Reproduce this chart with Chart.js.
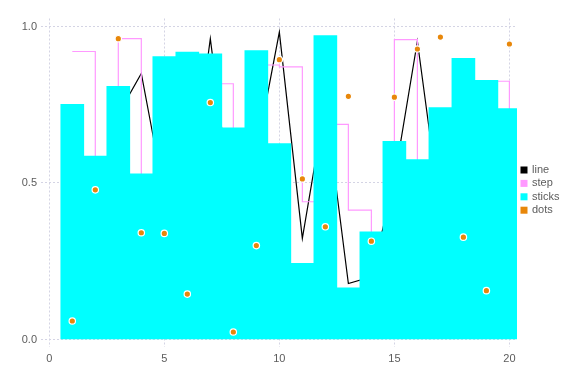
<!DOCTYPE html>
<html>
<head>
<meta charset="utf-8">
<script src="https://cdn.jsdelivr.net/npm/chart.js@4/dist/chart.umd.min.js"></script>
<style>
  html, body { margin: 0; padding: 0; background: #ffffff; }
  #wrap { width: 576px; height: 384px; }
</style>
</head>
<body>
<div id="wrap"><canvas id="c" width="576" height="384"></canvas></div>
<script>
// ---- data ----
const xs = [1,2,3,4,5,6,7,8,9,10,11,12,13,14,15,16,17,18,19,20];
const lineVals  = [0.41,0.19,0.72,0.85,0.46,0.41,0.961,0.38,0.596,0.982,0.323,0.757,0.179,0.20,0.51,0.953,0.405,0.55,0.12,0.30];
const stepVals  = [0.920,0.35,0.961,0.22,0.61,0.47,0.817,0.29,0.877,0.871,0.440,0.687,0.413,0.12,0.958,0.39,0.55,0.63,0.825,0.58];
const stickVals = [0.751,0.586,0.809,0.529,0.904,0.918,0.913,0.676,0.923,0.626,0.243,0.971,0.165,0.344,0.633,0.575,0.741,0.898,0.828,0.738];
const dotVals   = [0.059,0.478,0.961,0.341,0.339,0.145,0.757,0.024,0.300,0.894,0.513,0.360,0.777,0.314,0.774,0.928,0.966,0.327,0.156,0.944];
const seriesNames = ["line","step","sticks","dots"];
const xTicks = [0,5,10,15,20];
const yTicks = [0,0.5,1.0];

const colors = { line: "#000000", step: "#ff99ff", sticks: "#00ffff", dots: "#e8870a" };
const pts = vals => xs.map((x, i) => ({ x: x, y: vals[i] }));

const FONT = "'Liberation Sans', Arial, sans-serif";
const TXT = "#5c5c5c";
const GRID = "#d4d4e4";

const legendPlugin = {
  id: "sideLegend",
  afterDraw(chart) {
    const ctx = chart.ctx;
    ctx.save();
    ctx.font = "11px " + FONT;
    ctx.textBaseline = "middle";
    ctx.textAlign = "left";
    const y0 = 170, dy = 13.4;
    seriesNames.forEach((n, i) => {
      const y = y0 + i * dy;
      ctx.fillStyle = colors[n];
      ctx.fillRect(520.5, y - 3.5, 7, 7);
      ctx.fillStyle = TXT;
      ctx.fillText(n, 532, y);
    });
    ctx.restore();
  }
};

new Chart(document.getElementById("c"), {
  type: "bar",
  data: {
    datasets: [
      {
        type: "line", label: seriesNames[3], data: pts(dotVals), order: 0,
        showLine: false, pointRadius: 3.2, pointBorderWidth: 1.2,
        pointBackgroundColor: colors.dots, pointBorderColor: "#ffffff",
        borderColor: colors.dots, backgroundColor: colors.dots
      },
      {
        type: "bar", label: seriesNames[2], data: pts(stickVals), order: 1,
        backgroundColor: colors.sticks, borderWidth: 0,
        barPercentage: 1.0, categoryPercentage: 1.0, clip: 0
      },
      {
        type: "line", label: seriesNames[1], data: pts(stepVals), order: 2,
        stepped: true, borderColor: colors.step, borderWidth: 1.2,
        pointRadius: 0, fill: false, tension: 0
      },
      {
        type: "line", label: seriesNames[0], data: pts(lineVals), order: 3,
        borderColor: colors.line, borderWidth: 1.2,
        pointRadius: 0, fill: false, tension: 0
      }
    ]
  },
  options: {
    responsive: false,
    animation: false,
    devicePixelRatio: 1,
    layout: { padding: { left: 0, right: 59, top: 18.5, bottom: 0 } },
    plugins: { legend: { display: false }, tooltip: { enabled: false } },
    scales: {
      x: {
        type: "linear", min: -0.36, max: 20.33, offset: false,
        afterBuildTicks: s => { s.ticks = xTicks.map(v => ({ value: v })); },
        afterFit: s => { s.height = 37; },
        grid: { color: GRID, lineWidth: 1, drawTicks: false, offset: false },
        border: { display: false, dash: [2, 2] },
        ticks: { color: TXT, font: { family: FONT, size: 11 }, padding: 5, maxRotation: 0,
                 callback: v => String(v) }
      },
      y: {
        type: "linear", min: -0.024, max: 1.0255,
        afterBuildTicks: s => { s.ticks = yTicks.map(v => ({ value: v })); },
        afterFit: s => { s.width = 41; },
        grid: { color: GRID, lineWidth: 1, drawTicks: false, offset: false },
        border: { display: false, dash: [2, 2] },
        ticks: { color: TXT, font: { family: FONT, size: 11 }, padding: 4,
                 callback: v => Number(v).toFixed(1) }
      }
    }
  },
  plugins: [legendPlugin]
});
</script>
</body>
</html>
